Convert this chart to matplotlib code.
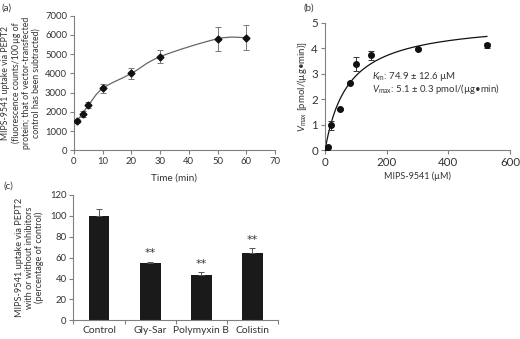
import numpy as np
import matplotlib
matplotlib.use("Agg")
import matplotlib.pyplot as plt
from matplotlib.path import Path
from matplotlib.patches import PathPatch

plt.rcParams['font.family'] = ['Lato', 'DejaVu Sans']
plt.rcParams['mathtext.fontset'] = 'custom'
plt.rcParams['mathtext.rm'] = 'Lato'
plt.rcParams['mathtext.it'] = 'Lato:italic'

# (a) uptake over time
time_min = [1, 3, 5, 10, 20, 30, 50, 60]
uptake = [1540, 1900, 2340, 3220, 4000, 4870, 5800, 5860]
uptake_err = [100, 150, 150, 230, 280, 330, 630, 660]

# (b) concentration dependence
conc_uM = [0, 5, 10, 20, 50, 80, 100, 150, 300, 525]
rate = [0.02, 0.1, 0.12, 0.98, 1.63, 2.64, 3.38, 3.73, 3.97, 4.12]
rate_err = [0.02, 0.03, 0.03, 0.18, 0.04, 0.05, 0.29, 0.18, 0.05, 0.1]
km, vmax = 74.9, 5.1

# (c) inhibitors
groups = ['Control', 'Gly-Sar', 'Polymyxin B', 'Colistin']
pct = [100, 55, 43, 64]
pct_err = [7, 1, 3, 5]
stars = ['', '**', '**', '**']

axcol = '#808080'
txtcol = '#333333'


def style(ax, fs):
    for s in ['top', 'right']:
        ax.spines[s].set_visible(False)
    for s in ['left', 'bottom']:
        ax.spines[s].set_color(axcol)
        ax.spines[s].set_linewidth(0.8)
    ax.tick_params(colors=axcol, labelcolor=txtcol, labelsize=fs, length=3, width=0.8, pad=2)


def smooth_path(x, y):
    # bezier smoothing through the points (like a spreadsheet smoothed line)
    pts = np.column_stack([x, y]).astype(float)
    n = len(pts)
    verts = [pts[0]]
    codes = [Path.MOVETO]
    for i in range(n - 1):
        p0 = pts[max(i - 1, 0)]
        p1 = pts[i]
        p2 = pts[i + 1]
        p3 = pts[min(i + 2, n - 1)]
        c1 = p1 + (p2 - p0) / 6
        c2 = p2 - (p3 - p1) / 6
        verts += [c1, c2, p2]
        codes += [Path.CURVE4] * 3
    return Path(verts, codes)


fig = plt.figure(figsize=(5.2, 3.39), dpi=100)

# panel a
ax1 = fig.add_axes([0.1423, 0.5566, 0.3865, 0.397])
style(ax1, 6.8)
ax1.add_patch(PathPatch(smooth_path(time_min, uptake), fill=False, color='#666666', lw=0.9))
ax1.errorbar(time_min, uptake, yerr=uptake_err, fmt='D', color='#111111', ms=3.5,
             ecolor='#777777', elinewidth=0.7, capsize=2, capthick=0.7, zorder=3)
ax1.set_xlim(0, 70)
ax1.set_ylim(0, 7000)
ax1.set_xticks(range(0, 71, 10))
ax1.set_yticks(range(0, 7001, 1000))
ax1.set_xlabel('Time (min)', fontsize=7.2, color=txtcol, labelpad=5)
ax1.set_ylabel('MIPS-9541 uptake via PEPT2\n(fluorescence counts/100\u2009µg of\n'
               'protein; that of vector-transfected\ncontrol has been subtracted)',
               fontsize=6.3, color=txtcol, labelpad=3, linespacing=1.15)

# panel b
ax2 = fig.add_axes([0.625, 0.5566, 0.3558, 0.3764])
style(ax2, 8.3)
xx = np.linspace(0, max(conc_uM), 300)
ax2.plot(xx, vmax * xx / (km + xx), color='#111111', lw=0.9)
ax2.errorbar(conc_uM, rate, yerr=rate_err, fmt='o', color='#111111', ms=4,
             ecolor='#333333', elinewidth=0.7, capsize=2, capthick=0.7, zorder=3)
ax2.set_xlim(0, 600)
ax2.set_ylim(0, 5)
ax2.set_xticks([0, 200, 400, 600])
ax2.set_yticks(range(0, 6))
ax2.set_xlabel('MIPS-9541 (µM)', fontsize=6.5, color=txtcol, labelpad=2)
ax2.set_ylabel('$V_{\\rm max}$ [pmol/(µg\u2022min)]', fontsize=6.9, color=txtcol, labelpad=2)
ax2.text(0.255, 0.555, '$K_{\\rm m}$: 74.9 ± 12.6 µM', transform=ax2.transAxes,
         fontsize=6.9, color=txtcol)
ax2.text(0.255, 0.455, '$V_{\\rm max}$: 5.1 ± 0.3 pmol/(µg\u2022min)', transform=ax2.transAxes,
         fontsize=6.9, color=txtcol)

# panel c
ax3 = fig.add_axes([0.1413, 0.0552, 0.393, 0.3696])
style(ax3, 6.9)
xpos = np.arange(len(groups))
ax3.bar(xpos, pct, width=0.41, color='#1a1a1a', zorder=2)
ax3.errorbar(xpos, pct, yerr=[np.zeros(len(pct)), pct_err], fmt='none', ecolor='#555555',
             elinewidth=0.7, capsize=2, capthick=0.7, zorder=3)
for x, v, e, s in zip(xpos, pct, pct_err, stars):
    ax3.text(x, v + e + 5.5, s, ha='center', va='baseline', fontsize=8,
             color=txtcol, family='DejaVu Sans')
ax3.set_xlim(-0.5, 3.5)
ax3.set_ylim(0, 120)
ax3.set_yticks(range(0, 121, 20))
ax3.set_xticks(xpos)
ax3.set_xticklabels(groups, fontsize=7.4)
ax3.set_xticks(np.arange(-0.5, 3.6, 1), minor=True)
ax3.tick_params(axis='x', which='major', length=0, pad=4)
ax3.tick_params(axis='x', which='minor', length=3, color=axcol, width=0.8)
ax3.set_ylabel('MIPS-9541 uptake via PEPT2\nwith or without inhibitors\n(percentage of control)',
               fontsize=6.6, color=txtcol, labelpad=4, linespacing=1.15)

fig.text(0.003, 0.975, '(a)', fontsize=7, color=txtcol, va='center')
fig.text(0.583, 0.975, '(b)', fontsize=7, color=txtcol, va='center')
fig.text(0.006, 0.452, '(c)', fontsize=7, color=txtcol, va='center')

fig.savefig('out.png', dpi=100)
